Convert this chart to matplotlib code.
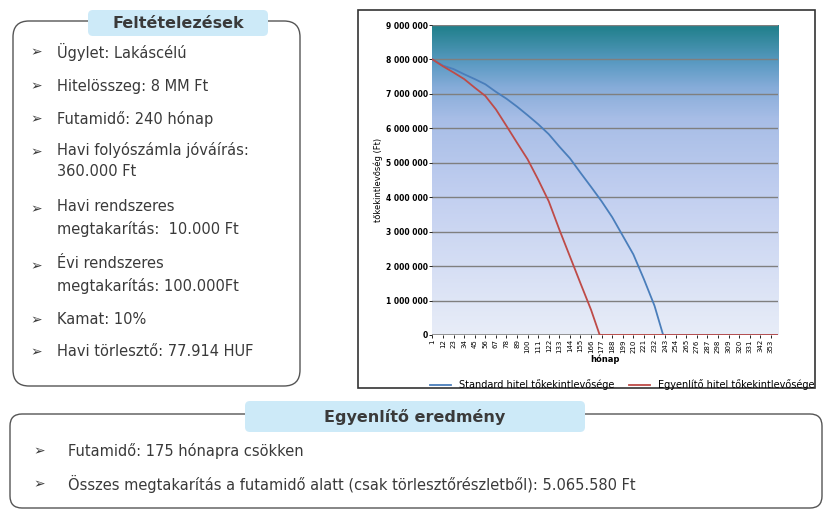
import matplotlib
matplotlib.use("Agg")
import matplotlib.pyplot as plt
import numpy as np
from matplotlib.patches import FancyBboxPatch, Rectangle
from matplotlib.colors import LinearSegmentedColormap

plt.rcParams['font.family'] = ['DejaVu Sans']

months_std = [1, 12, 23, 34, 45, 56, 67, 78, 89, 100, 111, 122, 133, 144, 155, 166, 177, 188, 199, 210, 221, 232, 241, 254, 287, 320, 360]
std_vals = [8.0, 7.82, 7.72, 7.57, 7.43, 7.28, 7.06, 6.86, 6.63, 6.38, 6.12, 5.83, 5.47, 5.13, 4.71, 4.30, 3.88, 3.42, 2.88, 2.34, 1.62, 0.85, 0.0, 0.0, 0.0, 0.0, 0.0]
months_eq = [1, 12, 23, 34, 45, 56, 67, 78, 89, 100, 111, 122, 133, 144, 155, 166, 175, 210, 254, 320, 360]
eq_vals = [8.0, 7.8, 7.62, 7.43, 7.18, 6.94, 6.55, 6.07, 5.58, 5.10, 4.51, 3.88, 3.06, 2.28, 1.50, 0.73, 0.0, 0.0, 0.0, 0.0, 0.0]
xtick_labels = list(range(1, 354, 11))
yticks = list(range(0, 9000001, 1000000))

assumptions = ["Ügylet: Lakáscélú", "Hitelösszeg: 8 MM Ft", "Futamidő: 240 hónap",
               "Havi folyószámla jóváírás:\n360.000 Ft", "Havi rendszeres\nmegtakarítás:  10.000 Ft",
               "Évi rendszeres\nmegtakarítás: 100.000Ft", "Kamat: 10%", "Havi törlesztő: 77.914 HUF"]
assump_y = [52, 86, 119, 161, 218, 275, 320, 352]
results = ["Futamidő: 175 hónapra csökken",
           "Összes megtakarítás a futamidő alatt (csak törlesztőrészletből): 5.065.580 Ft"]
results_y = [451, 484]

W, H = 830, 520
fig = plt.figure(figsize=(8.3, 5.2), dpi=100)
fig.patch.set_facecolor('white')
bg = fig.add_axes([0, 0, 1, 1])
bg.set_xlim(0, W); bg.set_ylim(H, 0); bg.axis('off')

txt = '#3a3a3a'
bg.add_patch(FancyBboxPatch((13, 21), 287, 365, boxstyle="round,pad=0,rounding_size=16",
                            fc='white', ec='#555555', lw=1.0))
bg.add_patch(FancyBboxPatch((88, 10), 180, 26, boxstyle="round,pad=0,rounding_size=5",
                            fc='#cdeaf8', ec='none'))
bg.text(178, 23, "Feltételezések", ha='center', va='center', fontsize=11.5, color=txt, fontweight='bold')
for t, y in zip(assumptions, assump_y):
    bg.text(30, y - (9 if '\n' in t else 0), "➢", ha='left', va='center', fontsize=10, color=txt)
    bg.text(57, y, t, ha='left', va='center', fontsize=10.5, color=txt, linespacing=1.5)

bg.add_patch(Rectangle((358, 10), 457, 378, fc='white', ec='#333333', lw=1.2))

bg.add_patch(FancyBboxPatch((10, 414), 812, 94, boxstyle="round,pad=0,rounding_size=12",
                            fc='white', ec='#555555', lw=1.0))
bg.add_patch(FancyBboxPatch((245, 401), 340, 31, boxstyle="round,pad=0,rounding_size=5",
                            fc='#cdeaf8', ec='none'))
bg.text(415, 417, "Egyenlítő eredmény", ha='center', va='center', fontsize=11.5, color=txt, fontweight='bold')
for t, y in zip(results, results_y):
    bg.text(33, y, "➢", ha='left', va='center', fontsize=10, color=txt)
    bg.text(68, y, t, ha='left', va='center', fontsize=10.5, color=txt)

ax = fig.add_axes([432 / W, 1 - 335 / H, 346 / W, 310 / H])
cmap = LinearSegmentedColormap.from_list('g', [(0, '#e8edf8'), (0.45, '#c2cff0'),
                                               (0.7, '#a7bde6'), (0.8, '#86acd9'),
                                               (0.88, '#5a9ac2'), (1, '#1f7f8a')])
grad = np.linspace(0, 1, 256).reshape(-1, 1)
ax.imshow(grad, aspect='auto', cmap=cmap, origin='lower', extent=[0.5, 360.5, 0, 9000000], zorder=0)
ax.set_xlim(0.5, 360.5); ax.set_ylim(0, 9000000)
for yv in yticks[1:]:
    ax.axhline(yv, color='#7f7f7f', lw=1.0, zorder=1)
ax.axhline(0, color='#8a8a8a', lw=2, zorder=1)
ax.plot(months_std, np.array(std_vals) * 1e6, color='#4a7ebb', lw=1.3, zorder=3,
        label='Standard hitel tőkekintlevősége')
ax.plot(months_eq, np.array(eq_vals) * 1e6, color='#be4b48', lw=1.3, zorder=4,
        label='Egyenlítő hitel tőkekintlevősége')
ax.set_yticks(yticks)
ax.set_yticklabels([f"{v:,}".replace(',', ' ') for v in yticks], fontsize=5.5, fontweight='bold')
ax.set_xticks(xtick_labels)
ax.set_xticklabels([str(v) for v in xtick_labels], rotation=90, fontsize=5)
ax.tick_params(length=2, width=0.6, pad=1)
ax.set_xlabel('hónap', fontsize=6, fontweight='bold', labelpad=1)
ax.set_ylabel('tőkekintlevőség (Ft)', fontsize=6, labelpad=2)
for s in ax.spines.values():
    s.set_visible(False)
ax.legend(loc='upper center', bbox_to_anchor=(0.55, -0.115), ncol=2, frameon=False,
          fontsize=7, handlelength=2.2, columnspacing=1.5)

fig.savefig('out.png', dpi=100)
